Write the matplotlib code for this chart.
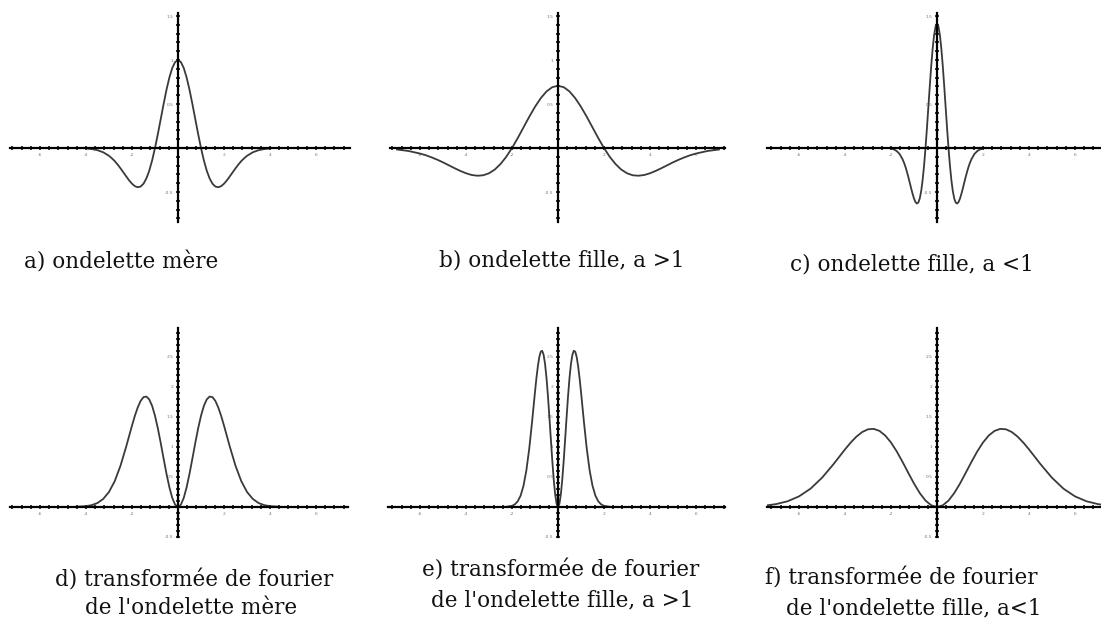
import numpy as np
import matplotlib.pyplot as plt
from matplotlib.ticker import MultipleLocator, FixedLocator, FixedFormatter

# half profiles (the curves are even functions), mirrored when drawn
t_mere = [0, 0.125, 0.25, 0.375, 0.5, 0.625, 0.75, 0.875, 1.0, 1.125, 1.25, 1.375,
          1.5, 1.625, 1.75, 1.875, 2.0, 2.125, 2.25, 2.375, 2.5, 2.625, 2.75, 2.875,
          3.0, 3.25, 3.5, 3.75, 4.0]
psi_mere = [1.000, 0.977, 0.909, 0.801, 0.662, 0.501, 0.330, 0.160, 0.000, -0.141,
            -0.258, -0.346, -0.406, -0.438, -0.446, -0.434, -0.406, -0.368, -0.323,
            -0.277, -0.231, -0.188, -0.149, -0.117, -0.089, -0.049, -0.025, -0.012, -0.005]

t_large = [0, 0.25, 0.5, 0.75, 1.0, 1.25, 1.5, 1.75, 2.0, 2.25, 2.5, 2.75, 3.0, 3.25,
           3.5, 3.75, 4.0, 4.25, 4.5, 4.75, 5.0, 5.25, 5.5, 5.75, 6.0, 6.5, 7.0]
psi_large = [0.707, 0.691, 0.643, 0.566, 0.468, 0.355, 0.234, 0.113, 0.000, -0.100,
             -0.182, -0.245, -0.287, -0.310, -0.315, -0.307, -0.287, -0.260, -0.229,
             -0.196, -0.163, -0.133, -0.106, -0.082, -0.063, -0.034, -0.017]

t_etroit = [0, 0.0625, 0.125, 0.1875, 0.25, 0.3125, 0.375, 0.4375, 0.5, 0.5625, 0.625,
            0.6875, 0.75, 0.8125, 0.875, 0.9375, 1.0, 1.0625, 1.125, 1.1875, 1.25,
            1.3125, 1.375, 1.4375, 1.5, 1.625, 1.75, 1.875, 2.0]
psi_etroit = [1.414, 1.381, 1.285, 1.133, 0.936, 0.709, 0.467, 0.226, 0.000, -0.200,
              -0.364, -0.490, -0.574, -0.620, -0.631, -0.614, -0.574, -0.520, -0.457,
              -0.391, -0.326, -0.266, -0.211, -0.165, -0.126, -0.069, -0.035, -0.016, -0.007]

w_mere = [0, 0.125, 0.25, 0.375, 0.5, 0.625, 0.75, 0.875, 1.0, 1.125, 1.25, 1.375, 1.5,
          1.625, 1.75, 1.875, 2.0, 2.25, 2.5, 2.75, 3.0, 3.25, 3.5, 3.75, 4.0, 4.5]
tf_mere = [0.000, 0.039, 0.152, 0.329, 0.553, 0.805, 1.064, 1.309, 1.520, 1.685, 1.793,
           1.841, 1.831, 1.768, 1.660, 1.520, 1.357, 1.010, 0.688, 0.432, 0.251, 0.135,
           0.067, 0.031, 0.014, 0.002]

w_large = [0, 0.0625, 0.125, 0.1875, 0.25, 0.3125, 0.375, 0.4375, 0.5, 0.5625, 0.625,
           0.6875, 0.75, 0.8125, 0.875, 0.9375, 1.0, 1.125, 1.25, 1.375, 1.5, 1.625,
           1.75, 1.875, 2.0, 2.25]
tf_large = [0.000, 0.055, 0.215, 0.465, 0.782, 1.139, 1.505, 1.851, 2.150, 2.383, 2.536,
            2.604, 2.589, 2.500, 2.348, 2.149, 1.919, 1.428, 0.974, 0.611, 0.354, 0.190,
            0.095, 0.044, 0.019, 0.003]

w_etroit = [0, 0.25, 0.5, 0.75, 1.0, 1.25, 1.5, 1.75, 2.0, 2.25, 2.5, 2.75, 3.0, 3.25,
            3.5, 3.75, 4.0, 4.5, 5.0, 5.5, 6.0, 6.5, 7.0, 7.5]
tf_etroit = [0.000, 0.028, 0.107, 0.232, 0.391, 0.570, 0.753, 0.926, 1.075, 1.191, 1.268,
             1.302, 1.295, 1.250, 1.174, 1.075, 0.960, 0.714, 0.487, 0.305, 0.177, 0.095,
             0.048, 0.022]

x_ticks = [-6, -4, -2, 2, 4, 6]
y_ticks_haut = [-0.5, 0.5, 1, 1.5]
y_ticks_bas = [-0.5, 0.5, 1, 1.5, 2, 2.5]

W, H = 1101, 623
fig = plt.figure(figsize=(W / 100, H / 100), dpi=100)


def mirror(t, v):
    t = np.asarray(t)
    v = np.asarray(v)
    return np.concatenate([-t[:0:-1], t]), np.concatenate([v[:0:-1], v])


def panel(x0, x1, xc, y0, y1, yc, sx, sy, yticks):
    # axes box in pixels, origin at (xc, yc), sx / sy pixels per unit
    ax = fig.add_axes([x0 / W, 1 - y1 / H, (x1 - x0) / W, (y1 - y0) / H])
    ax.set_xlim((x0 - xc) / sx, (x1 - xc) / sx)
    ax.set_ylim((yc - y1) / sy, (yc - y0) / sy)
    ax.patch.set_visible(False)
    for s in ['top', 'right']:
        ax.spines[s].set_visible(False)
    for s in ['left', 'bottom']:
        ax.spines[s].set_position('zero')
        ax.spines[s].set_linewidth(1.6)
        ax.spines[s].set_color('black')
    ax.xaxis.set_major_locator(FixedLocator(x_ticks))
    ax.xaxis.set_major_formatter(FixedFormatter([str(v) for v in x_ticks]))
    ax.xaxis.set_minor_locator(MultipleLocator(0.4))
    ax.yaxis.set_major_locator(FixedLocator(yticks))
    ax.yaxis.set_major_formatter(FixedFormatter([('%g' % v) for v in yticks]))
    ax.yaxis.set_minor_locator(MultipleLocator(0.1))
    ax.tick_params(which='both', direction='inout', length=3.5, width=1.1,
                   color='black', labelsize=3.2, labelcolor='#777777', pad=1.5)
    return ax


def draw(ax, t, v):
    x, y = mirror(t, v)
    ax.plot(x, y, color='#3a3a3a', lw=1.3, clip_on=True)


# top row: wavelets, 88 px per unit vertically
ax_a = panel(10, 350, 178, 13, 222, 148, 23, 88, y_ticks_haut)
draw(ax_a, t_mere, psi_mere)
ax_b = panel(390, 725, 558, 13, 222, 148, 23, 88, y_ticks_haut)
draw(ax_b, t_large, psi_large)
ax_c = panel(767, 1101, 937, 13, 222, 148, 23, 88, y_ticks_haut)
draw(ax_c, t_etroit, psi_etroit)

# bottom row: Fourier transforms, 60 px per unit vertically
ax_d = panel(10, 348, 178, 328, 537, 507, 23, 60, y_ticks_bas)
draw(ax_d, w_mere, tf_mere)
ax_e = panel(388, 725, 558, 328, 537, 507, 23, 60, y_ticks_bas)
draw(ax_e, w_large, tf_large)
ax_f = panel(767, 1101, 937, 328, 537, 507, 23, 60, y_ticks_bas)
draw(ax_f, w_etroit, tf_etroit)

captions = [
    (121, 269, "a) ondelette mère"),
    (562, 267, "b) ondelette fille, a >1"),
    (912, 270, "c) ondelette fille, a <1"),
    (194, 587, "d) transformée de fourier"),
    (191, 614, "de l'ondelette mère"),
    (561, 577, "e) transformée de fourier"),
    (562, 606, "de l'ondelette fille, a >1"),
    (901, 585, "f) transformée de fourier"),
    (914, 614, "de l'ondelette fille, a<1"),
]
for cx, cy, txt in captions:
    fig.text(cx / W, 1 - cy / H, txt, ha='center', va='baseline',
             family='DejaVu Serif', fontsize=15.5, color='#111111')

fig.savefig('out.png', dpi=100)
